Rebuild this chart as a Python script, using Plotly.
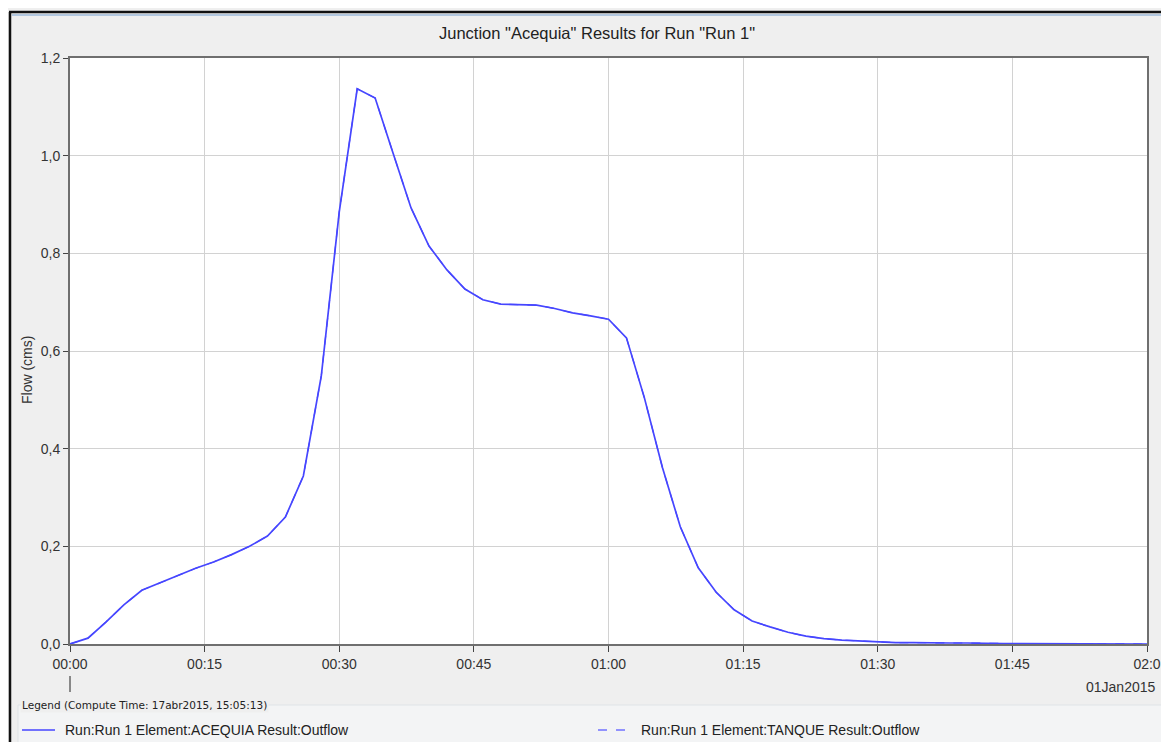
import pandas as pd
import plotly.graph_objects as go

# ---- data ----
start_time = "2015-01-01 00:00"
step_minutes = 2
acequia_flow = [
    0.000, 0.012, 0.045, 0.080, 0.110, 0.125, 0.140, 0.155, 0.168, 0.183,
    0.200, 0.221, 0.260, 0.344, 0.549, 0.885, 1.137, 1.118, 1.005, 0.893,
    0.815, 0.766, 0.727, 0.705, 0.696, 0.695, 0.694, 0.687, 0.678, 0.672,
    0.665, 0.627, 0.504, 0.362, 0.240, 0.156, 0.106, 0.070, 0.047, 0.035,
    0.024, 0.016, 0.011, 0.008, 0.006, 0.004, 0.003, 0.003, 0.002, 0.002,
    0.002, 0.001, 0.001, 0.001, 0.001, 0.000, 0.000, 0.000, 0.000, 0.000,
    0.000,
]
tanque_flow = list(acequia_flow)
times = pd.date_range(start_time, periods=len(acequia_flow), freq=f"{step_minutes}min")

tick_times = pd.date_range(start_time, periods=9, freq="15min")
tick_labels = ["00:00", "00:15", "00:30", "00:45", "01:00", "01:15", "01:30", "01:45", "02:0"]
y_ticks = [0.0, 0.2, 0.4, 0.6, 0.8, 1.0, 1.2]

title_text = 'Junction "Acequia" Results for Run "Run 1"'
y_title = "Flow (cms)"
legend_title = "Legend (Compute Time: 17abr2015, 15:05:13)"
date_label = "01Jan2015"
series_names = ["Run:Run 1 Element:ACEQUIA Result:Outflow",
                "Run:Run 1 Element:TANQUE Result:Outflow"]

LINE_COLOR = "#4646ff"
FONT = "Liberation Sans, Arial, sans-serif"

W, H = 1169, 742
OFF = 8  # page body margin in the browser
# plot area in screen pixels
PX0, PX1, PY0, PY1 = 70, 1147, 58, 644
L, T = PX0 - OFF, PY0 - OFF
R = W - L - (PX1 - PX0)
B = H - T - (PY1 - PY0)
pw, ph = PX1 - PX0, PY1 - PY0


def sx(x):
    return (x - PX0) / pw


def sy(y):
    return (PY1 - y) / ph


fig = go.Figure()
fig.add_trace(go.Scatter(
    x=times, y=tanque_flow, mode="lines", name=series_names[1],
    line=dict(color=LINE_COLOR, width=1.2, dash="dash"),
    showlegend=False,
))
fig.add_trace(go.Scatter(
    x=times, y=acequia_flow, mode="lines", name=series_names[0],
    line=dict(color=LINE_COLOR, width=1.7),
    showlegend=False,
))

shapes = [
    # top dark border
    dict(type="line", xref="paper", yref="paper", x0=sx(9), x1=sx(W + 10),
         y0=sy(12), y1=sy(12), line=dict(color="#111111", width=2.5)),
    dict(type="line", xref="paper", yref="paper", x0=sx(12), x1=sx(W + 10),
         y0=sy(15), y1=sy(15), line=dict(color="#b3c8e0", width=2)),
    # left dark border
    dict(type="line", xref="paper", yref="paper", x0=sx(10), x1=sx(10),
         y0=sy(12), y1=sy(H + 10), line=dict(color="#111111", width=2.5)),
    # legend panel (titled border)
    dict(type="rect", xref="paper", yref="paper", x0=sx(18), x1=sx(W + 10),
         y0=sy(H + 10), y1=sy(705), fillcolor="#f3f4f5",
         line=dict(color="#dfe3e7", width=1), layer="below"),
    # tick mark under 00:00
    dict(type="line", xref="paper", yref="paper", x0=0, x1=0,
         y0=sy(676), y1=sy(692), line=dict(color="#222222", width=1)),
    # legend samples
    dict(type="line", xref="paper", yref="paper", x0=sx(22), x1=sx(55),
         y0=sy(730), y1=sy(730), line=dict(color=LINE_COLOR, width=1.7)),
    dict(type="line", xref="paper", yref="paper", x0=sx(598), x1=sx(632),
         y0=sy(730), y1=sy(730), line=dict(color="#7272ff", width=1.7, dash="dash")),
]

annotations = [
    dict(text=title_text, xref="paper", yref="paper", x=sx(597), y=sy(33),
         xanchor="center", yanchor="middle", showarrow=False,
         font=dict(size=16.5, color="#222222", family=FONT)),
    dict(text=y_title, xref="paper", yref="paper", x=sx(27), y=sy(370),
         xanchor="center", yanchor="middle", showarrow=False, textangle=-90,
         font=dict(size=14, color="#333333", family=FONT)),
    dict(text=legend_title, xref="paper", yref="paper", x=sx(20), y=sy(705),
         xanchor="left", yanchor="middle", showarrow=False, bgcolor="#efefef",
         font=dict(size=10.5, color="#222222", family="DejaVu Sans, Verdana, sans-serif")),
    dict(text=date_label, xref="paper", yref="paper", x=sx(1158), y=sy(687),
         xanchor="right", yanchor="middle", showarrow=False,
         font=dict(size=14, color="#333333", family=FONT)),
    dict(text=series_names[0], xref="paper", yref="paper", x=sx(63), y=sy(730),
         xanchor="left", yanchor="middle", showarrow=False,
         font=dict(size=14, color="#222222", family=FONT)),
    dict(text=series_names[1], xref="paper", yref="paper", x=sx(639), y=sy(730),
         xanchor="left", yanchor="middle", showarrow=False,
         font=dict(size=14, color="#222222", family=FONT)),
]

fig.update_layout(
    width=W, height=H,
    margin=dict(l=L, r=R, t=T, b=B, pad=0, autoexpand=False),
    paper_bgcolor="#efefef",
    plot_bgcolor="white",
    separators=",.",
    font=dict(family=FONT, size=14, color="#333333"),
    shapes=shapes,
    annotations=annotations,
    showlegend=False,
)

fig.update_xaxes(
    type="date",
    range=[tick_times[0], tick_times[-1]],
    tickvals=tick_times, ticktext=tick_labels,
    showgrid=True, gridcolor="#d2d2d2", gridwidth=1,
    showline=True, linecolor="#6f6f6f", linewidth=2, mirror=True,
    ticks="outside", ticklen=6, tickcolor="#444444",
    tickfont=dict(size=14, color="#333333"),
    zeroline=False,
)
fig.update_yaxes(
    range=[0, 1.2],
    tickvals=y_ticks, tickformat=".1f",
    showgrid=True, gridcolor="#d2d2d2", gridwidth=1,
    showline=True, linecolor="#6f6f6f", linewidth=2, mirror=True,
    ticks="outside", ticklen=5, tickcolor="#444444",
    tickfont=dict(size=14, color="#333333"),
    zeroline=False,
)

fig.write_html("out.html")
